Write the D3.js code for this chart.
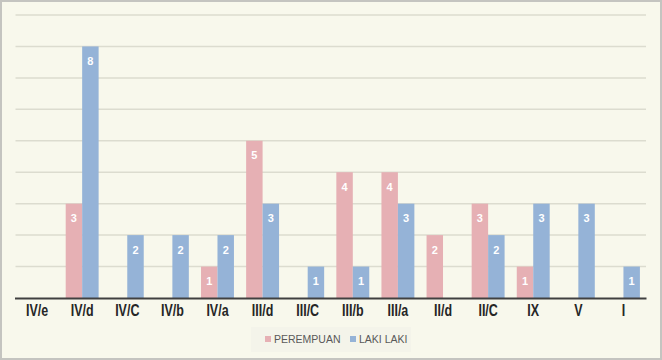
<!DOCTYPE html>
<html>
<head>
  <meta charset="utf-8">
  <title>Grafik</title>
  <style>
    body { margin: 0; background: #fff; }
    svg { display: block; }
  </style>
</head>
<body>
  <svg width="662" height="360"></svg>
  <script src="https://cdnjs.cloudflare.com/ajax/libs/d3/7.8.5/d3.min.js"></script>
  <script>
    // data
    let categories = ['IV/e', 'IV/d', 'IV/C', 'IV/b', 'IV/a', 'III/d', 'III/C', 'III/b', 'III/a', 'II/d', 'II/C', 'IX', 'V', 'I'];
    let perempuan = [0, 3, 0, 0, 1, 5, 0, 4, 4, 2, 3, 1, 0, 0];
    let lakiLaki  = [0, 8, 2, 2, 2, 3, 1, 1, 3, 0, 2, 3, 3, 1];
    let seriesNames = ['PEREMPUAN', 'LAKI LAKI'];
    let colors = ['#E6B0B4', '#95B3D7'];
    let yTicks = [0, 1, 2, 3, 4, 5, 6, 7, 8, 9];

    let svg = d3.select('svg');
    let W = 662, H = 360;
    let margin = {left: 14.5, right: 16, top: 15, bottom: 62};

    // chart area background + border
    svg.append('rect')
       .attr('x', 1).attr('y', 1)
       .attr('width', W - 2).attr('height', H - 2)
       .attr('fill', '#F8F8EC')
       .attr('stroke', '#C4C4C0')
       .attr('stroke-width', 2);

    let xScale = d3.scaleBand()
                   .domain(categories)
                   .range([margin.left, W - margin.right])
                   .paddingInner(0)
                   .paddingOuter(0);
    let inner = d3.scaleBand()
                  .domain([0, 1])
                  .range([0, xScale.bandwidth()])
                  .paddingOuter(0.37)
                  .paddingInner(0);
    let yScale = d3.scaleLinear()
                   .domain([0, 9])
                   .range([H - margin.bottom, margin.top]);

    // gridlines
    svg.append('g')
       .selectAll('line')
       .data(yTicks.filter(d => d > 0))
       .enter().append('line')
       .attr('x1', margin.left + 1).attr('x2', W - margin.right)
       .attr('y1', d => yScale(d)).attr('y2', d => yScale(d))
       .attr('stroke', '#DCDCCF')
       .attr('stroke-width', 1.5);

    let rows = categories.map((c, i) => ({cat: c, vals: [perempuan[i], lakiLaki[i]]}));

    let groups = svg.selectAll('g.cat')
                    .data(rows)
                    .enter().append('g')
                    .attr('class', 'cat')
                    .attr('transform', d => 'translate(' + xScale(d.cat) + ',0)');

    let bars = groups.selectAll('g.bar')
                     .data(d => d.vals.map((v, k) => ({v: v, k: k})).filter(e => e.v > 0))
                     .enter().append('g')
                     .attr('class', 'bar');

    bars.append('rect')
        .attr('x', d => inner(d.k))
        .attr('width', inner.bandwidth())
        .attr('y', d => yScale(d.v))
        .attr('height', d => yScale(0) - yScale(d.v))
        .attr('fill', d => colors[d.k]);

    bars.append('text')
        .attr('x', d => inner(d.k) + inner.bandwidth() / 2)
        .attr('y', d => yScale(d.v) + 18.5)
        .attr('text-anchor', 'middle')
        .attr('font-family', 'Liberation Sans, Arial, sans-serif')
        .attr('font-weight', 'bold')
        .attr('font-size', 11)
        .attr('fill', '#FFFFFF')
        .text(d => d.v);

    // x axis
    let xAxis = d3.axisBottom(xScale).tickSize(0);
    let ax = svg.append('g')
                .attr('transform', 'translate(0,' + yScale(0) + ')')
                .call(xAxis);
    ax.select('.domain')
      .attr('stroke', '#404040')
      .attr('stroke-width', 2.2);
    ax.selectAll('text')
      .attr('y', 18.5)
      .attr('dy', 0)
      .attr('transform', 'scale(0.78,1)')
      .attr('font-family', 'Liberation Sans, Arial, sans-serif')
      .attr('font-weight', 'bold')
      .attr('font-size', 16)
      .attr('fill', '#262626');

    // legend
    svg.append('rect')
       .attr('x', 251).attr('y', 327)
       .attr('width', 160).attr('height', 25)
       .attr('fill', '#F4F4EA');
    let legendX = [265, 350];
    let lg = svg.selectAll('g.legend')
                .data(seriesNames)
                .enter().append('g')
                .attr('class', 'legend')
                .attr('transform', (d, i) => 'translate(' + legendX[i] + ',339)');
    lg.append('rect')
      .attr('x', 0).attr('y', -3)
      .attr('width', 6).attr('height', 6)
      .attr('fill', (d, i) => colors[i]);
    lg.append('text')
      .attr('x', 9).attr('y', 4)
      .attr('font-family', 'Liberation Sans, Arial, sans-serif')
      .attr('font-size', 10.5)
      .attr('fill', '#595959')
      .text(d => d);
  </script>
</body>
</html>
